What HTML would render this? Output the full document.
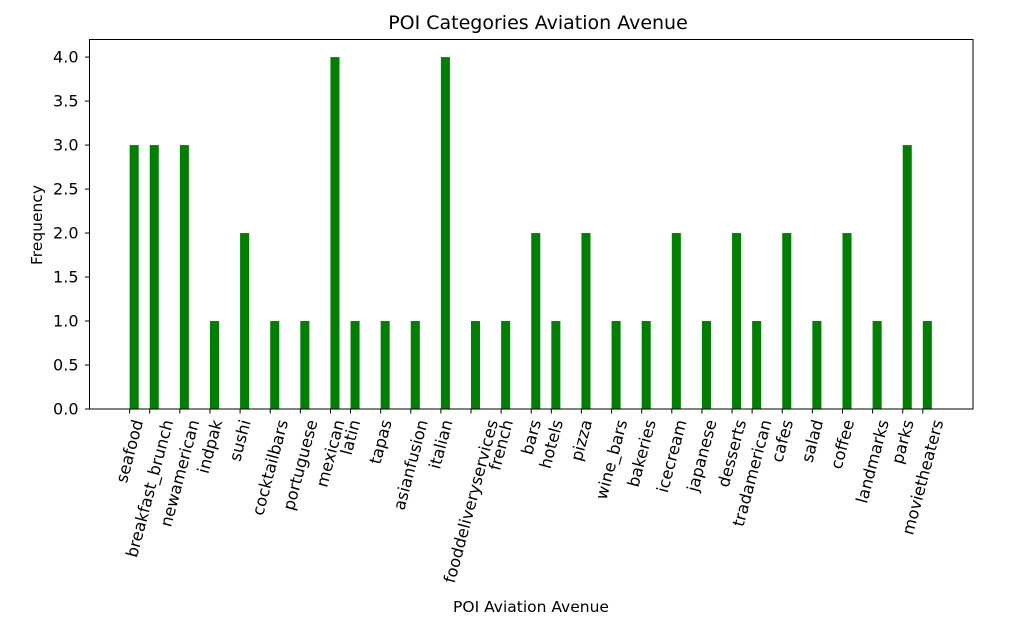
<!DOCTYPE html>
<html><head><meta charset="utf-8"><style>
html,body{margin:0;padding:0;background:#fff;}
svg{display:block;font-family:"DejaVu Sans","Liberation Sans",sans-serif;}
</style></head><body>
<svg id="chart" width="1012" height="622">
<text x="538" y="29" font-size="19" text-anchor="middle" fill="#000">POI Categories Aviation Avenue</text>
<text x="531" y="612" font-size="15.5" text-anchor="middle" fill="#000">POI Aviation Avenue</text>
<text transform="translate(42,225) rotate(-90)" font-size="15.5" text-anchor="middle" fill="#000">Frequency</text>
<g id="bars"></g>
<g id="xticks"></g>
<g id="yticks"></g>
<rect x="89.5" y="39.5" width="883.5" height="369.5" fill="none" stroke="#000" stroke-width="1"/>
</svg>
<script>
const categories = ["seafood","breakfast_brunch","newamerican","indpak","sushi","cocktailbars","portuguese","mexican","latin","tapas","asianfusion","italian","fooddeliveryservices","french","bars","hotels","pizza","wine_bars","bakeries","icecream","japanese","desserts","tradamerican","cafes","salad","coffee","landmarks","parks","movietheaters"];
const positions = [0,2,5,8,11,14,17,20,22,25,28,31,34,37,40,42,45,48,51,54,57,60,62,65,68,71,74,77,79];
const values = [3,3,3,1,2,1,1,4,1,1,1,4,1,1,2,1,2,1,1,2,1,2,1,2,1,2,1,3,1];
const yTicks = [0,0.5,1,1.5,2,2.5,3,3.5,4];
const yTickLabels = ["0.0","0.5","1.0","1.5","2.0","2.5","3.0","3.5","4.0"];
const NS = "http://www.w3.org/2000/svg";
const xMin = -4, xMax = 84, yMax = 4.2;
const L = 89.5, R = 973, T = 39.5, B = 409;
const xs = v => L + (v - xMin) / (xMax - xMin) * (R - L);
const ys = v => B - v / yMax * (B - T);
const barW = 0.9;
const gb = document.getElementById('bars'), gx = document.getElementById('xticks'), gy = document.getElementById('yticks');
categories.forEach((c, i) => {
  const r = document.createElementNS(NS, 'rect');
  r.setAttribute('x', xs(positions[i]));
  r.setAttribute('width', xs(positions[i] + barW) - xs(positions[i]));
  r.setAttribute('y', ys(values[i]));
  r.setAttribute('height', B - ys(values[i]));
  r.setAttribute('fill', '#008000');
  
  
  gb.appendChild(r);
  const tx = xs(positions[i]);
  const tl = document.createElementNS(NS, 'line');
  tl.setAttribute('x1', tx); tl.setAttribute('x2', tx);
  tl.setAttribute('y1', B); tl.setAttribute('y2', B + 4.5);
  tl.setAttribute('stroke', '#000');
  
  
  gx.appendChild(tl);
  const t = document.createElementNS(NS, 'text');
  t.textContent = c;
  t.setAttribute('font-size', '16.3');
  t.setAttribute('fill', '#000');
  t.setAttribute('text-anchor', 'middle');
  t.setAttribute('dominant-baseline', 'central');
  
  
  gx.appendChild(t);
  const len = t.getComputedTextLength();
  const cy = B + 9 + (len * 0.966 + 16 * 0.259) / 2;
  t.setAttribute('x', tx); t.setAttribute('y', cy);
  t.setAttribute('transform', 'rotate(-75,' + tx + ',' + cy + ')');
});
yTicks.forEach((v, i) => {
  const y = ys(v);
  const tl = document.createElementNS(NS, 'line');
  tl.setAttribute('x1', L - 4.5); tl.setAttribute('x2', L);
  tl.setAttribute('y1', y); tl.setAttribute('y2', y);
  tl.setAttribute('stroke', '#000');
  
  
  gy.appendChild(tl);
  const t = document.createElementNS(NS, 'text');
  t.textContent = yTickLabels[i];
  t.setAttribute('x', L - 11); t.setAttribute('y', y + 5.5);
  t.setAttribute('font-size', '16');
  t.setAttribute('text-anchor', 'end');
  t.setAttribute('fill', '#000');
  
  
  gy.appendChild(t);
});
</script>
</body></html>
